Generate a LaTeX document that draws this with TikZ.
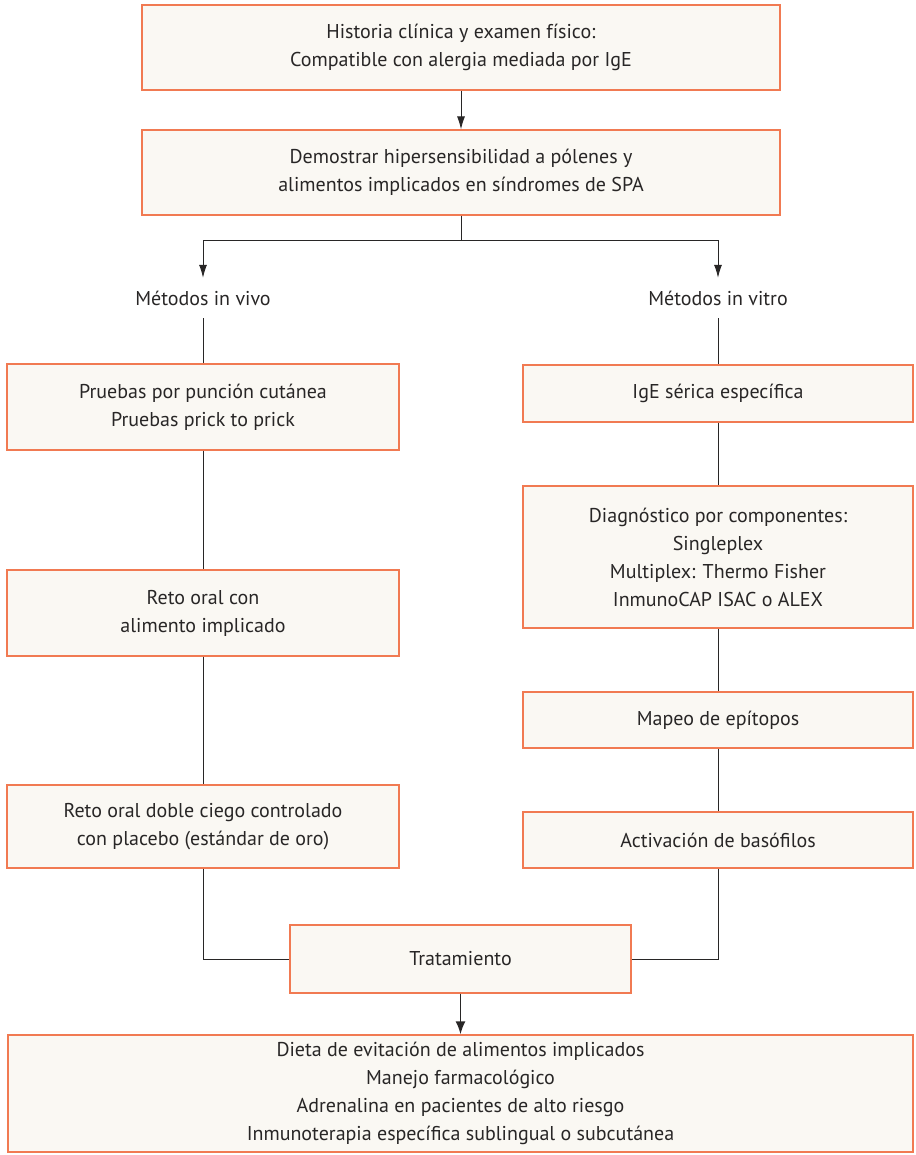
\documentclass[tikz,border=0pt]{standalone}
\usepackage{fontspec}
\setmainfont{PT Sans}
\usetikzlibrary{arrows.meta}
\definecolor{boxline}{RGB}{241,122,82}
\definecolor{boxfill}{RGB}{250,248,243}
\definecolor{ink}{RGB}{40,38,38}
\begin{document}
\begin{tikzpicture}[x=1pt,y=-1pt,
  box/.style={draw=boxline, fill=boxfill, line width=1.3pt, inner sep=0pt, align=center, text=ink,
    font=\fontsize{20}{28}\selectfont},
  lbl/.style={inner sep=0pt, minimum height=40pt, text=ink, font=\fontsize{20}{28}\selectfont},
  conn/.style={draw=ink, line width=0.9pt},
  arr/.style={conn, -{Latex[length=13pt,width=8pt]}},
  bigarr/.style={draw=ink, line width=1.8pt, -{Latex[length=13pt,width=10pt]}}]
\useasboundingbox (0,0) rectangle (915,1155);
\node[box, minimum width=638pt, minimum height=85pt] (hist) at (461,47.5)
  {Historia clínica y examen físico:\\Compatible con alergia mediada por IgE};
\node[box, minimum width=638pt, minimum height=85pt] (dem) at (461,172.5)
  {Demostrar hipersensibilidad a pólenes y\\alimentos implicados en síndromes de SPA};
\node[lbl] (vivo) at (203,298) {Métodos in vivo};
\node[lbl] (vitro) at (718,298) {Métodos in vitro};
\node[box, minimum width=392pt, minimum height=86pt] (l1) at (203,407)
  {Pruebas por punción cutánea\\Pruebas prick to prick};
\node[box, minimum width=392pt, minimum height=86pt] (l2) at (203,613)
  {Reto oral con\\alimento implicado};
\node[box, minimum width=392pt, minimum height=83pt] (l3) at (203,826.5)
  {Reto oral doble ciego controlado\\con placebo (estándar de oro)};
\node[box, minimum width=390pt, minimum height=57pt] (r1) at (718,393.5)
  {IgE sérica específica};
\node[box, minimum width=390pt, minimum height=142pt] (r2) at (718,557)
  {Diagnóstico por componentes:\\Singleplex\\Multiplex: Thermo Fisher\\InmunoCAP ISAC o ALEX};
\node[box, minimum width=390pt, minimum height=56pt] (r3) at (718,720)
  {Mapeo de epítopos};
\node[box, minimum width=390pt, minimum height=56pt] (r4) at (718,840)
  {Activación de basófilos};
\node[box, minimum width=341pt, minimum height=68pt] (trat) at (460.5,959)
  {Tratamiento};
\node[box, minimum width=905pt, minimum height=117pt] (fin) at (460.5,1093.5)
  {Dieta de evitación de alimentos implicados\\Manejo farmacológico\\Adrenalina en pacientes de alto riesgo\\Inmunoterapia específica sublingual o subcutánea};
\draw[arr] (hist.south) -- (dem.north);
\draw[conn] (dem.south) -- ++(0,25) coordinate (sp);
\draw[arr] (sp) -| (vivo.north);
\draw[arr] (sp) -| (vitro.north);
\draw[conn] (vivo.south) -- (l1.north);
\draw[conn] (vitro.south) -- (r1.north);
\draw[conn] (l1.south) -- (l2.north);
\draw[conn] (l2.south) -- (l3.north);
\draw[conn] (r1.south) -- (r2.north);
\draw[conn] (r2.south) -- (r3.north);
\draw[conn] (r3.south) -- (r4.north);
\draw[conn] (l3.south) |- (trat.west);
\draw[conn] (r4.south) |- (trat.east);
\draw[bigarr] (trat.south) -- (fin.north);
\end{tikzpicture}
\end{document}
